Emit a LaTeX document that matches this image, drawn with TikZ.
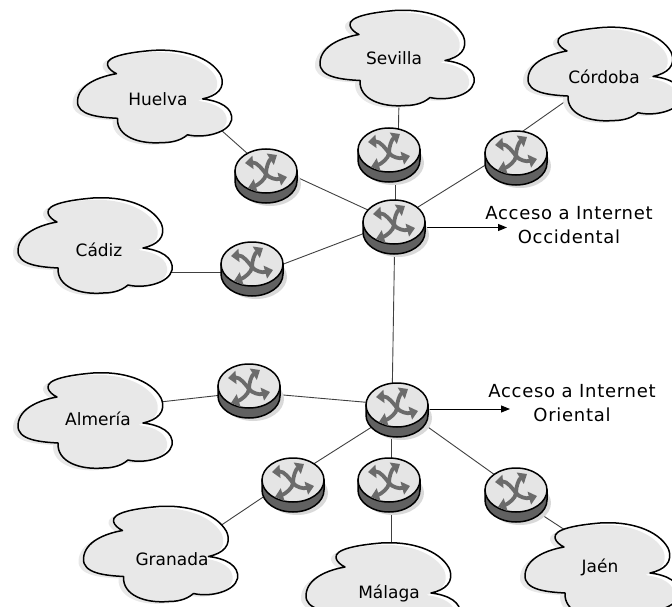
\documentclass[tikz,border=0pt]{standalone}
\usepackage{fontspec}
\setmainfont{DejaVu Sans}
\usetikzlibrary{arrows.meta,shapes.geometric}
\definecolor{cloudgray}{gray}{0.91}
\definecolor{topgray}{gray}{0.9}
\definecolor{sidegray}{gray}{0.38}
\definecolor{icongray}{gray}{0.42}
\definecolor{shadegray}{gray}{0.85}
\newcommand{\cloudpath}{
  (-47,-32) .. controls (-49,-41) and (-25,-45) .. (-2,-47)
  .. controls (28,-49) and (56,-40) .. (66,-22)
  .. controls (72,-8) and (62,0) .. (48,3)
  .. controls (65,5) and (79,12) .. (77,25)
  .. controls (74,38) and (50,44) .. (33,40)
  .. controls (25,47) and (15,48) .. (8,48)
  .. controls (-15,50) and (-38,42) .. (-37,23)
  .. controls (-55,22) and (-78,20) .. (-77,5)
  .. controls (-76,-12) and (-55,-20) .. (-38,-23)
  .. controls (-42,-25) and (-46,-28) .. (-47,-32) -- cycle
}
\newcommand{\mycloud}[4]{% x y sx sy
  \begin{scope}[shift={(#1,#2)},xscale=#3,yscale=#4]
    \fill[white] \cloudpath;
    \fill[cloudgray,shift={(-5,2)}] \cloudpath;
    \draw[cloudline] \cloudpath;
  \end{scope}
}
\newcommand{\myrouter}[3]{% name x y
  \fill[shadegray] (#2+4,#3+13) circle [x radius=31, y radius=22];
  \fill[sidegray,draw=black,routerline] (#2-31,#3) -- (#2-31,#3+10) arc [start angle=180,end angle=0,x radius=31,y radius=22] -- (#2+31,#3) -- cycle;
  \node[routertop] (#1) at (#2,#3) {};
  \begin{scope}[shift={(#2,#3)}]
    \draw[routericon] (-21,-8) .. controls (-9,-9) and (-3,-1) .. (0,3) .. controls (3,7) and (10,9) .. (21,6);
    \draw[routericon] (11,-16) .. controls (3,-11) and (0,-4) .. (0,3) .. controls (0,8) and (-8,14) .. (-18,17);
  \end{scope}
}
\tikzset{
  cloudline/.style={draw=black,line width=1.5,line join=round},
  routerline/.style={line width=1.5},
  routertop/.style={ellipse,draw=black,line width=1.5,fill=topgray,minimum width=62,minimum height=44,inner sep=0},
  routericon/.style={draw=icongray,line width=3.8,{Triangle[width=13,length=8]}-{Triangle[width=13,length=8]}},
  conn/.style={draw=black!75,line width=0.9},
  accessarrow/.style={draw=black,line width=0.9,-{Triangle[width=7,length=9]}},
  lbl/.style={font=\fontsize{17}{20}\selectfont,text=black,inner sep=0},
  acc/.style={font=\fontsize{18}{24}\selectfont\addfontfeature{LetterSpace=4},text=black,align=center,inner sep=0}
}
\begin{document}
\begin{tikzpicture}[x=1pt,y=-1pt]
\useasboundingbox (0,0) rectangle (672,607);
\clip (0,0) rectangle (672,607);
% named ends of the connectors
\coordinate (cH) at (212,122);
\coordinate (cS) at (399,100);
\coordinate (cC) at (570,98);
\coordinate (cD) at (165,272);
\coordinate (cA) at (160,402);
\coordinate (cG) at (220,526);
\coordinate (cM) at (391,550);
\coordinate (cJ) at (565,530);
\coordinate (occ) at (507,227.5);
\coordinate (ori) at (510,409);
\coordinate (pH) at (266,170);
\coordinate (pHb) at (266,163);
\coordinate (pS) at (398,150);
\coordinate (pC) at (516,136);
\coordinate (pCb) at (516,146);
\coordinate (pA) at (394,222);
\coordinate (pD) at (252,276);
\coordinate (pDb) at (252,272);
\coordinate (pL) at (249,392);
\coordinate (pB) at (397,405);
\coordinate (pBb) at (397,411);
\coordinate (pG) at (293,477);
\coordinate (pM) at (391,478);
\coordinate (pJ) at (516,490);
\coordinate (pJb) at (516,498);
\draw[conn] (cH) -- (pH);
\draw[conn] (cS) -- (pS);
\draw[conn] (cC) -- (pC);
\draw[conn] (cD) -- (pDb);
\draw[conn] (cA) -- (pL);
\draw[conn] (cG) -- (pG);
\draw[conn] (cM) -- (pM);
\draw[conn] (cJ) -- (pJb);
\draw[conn] (pHb) -- (pA);
\draw[conn] (pS -| pA) ++(1,0) -- ++(0,70);
\draw[conn] (pCb) -- (pA);
\draw[conn] (pD) -- (pA);
\draw[conn] (pA) ++(1,0) -- (392,405);
\draw[conn] (pL) -- (pB);
\draw[conn] (pG) -- (pBb);
\draw[conn] (pM) -- (pM |- pB);
\draw[conn] (pJ) -- (pB);
\draw[accessarrow] (pA |- occ) -- (occ);
\draw[accessarrow] (pB |- ori) -- (ori);
% clouds
\mycloud{154.5}{96}{1}{0.97}
\mycloud{397}{57.5}{1}{1}
\mycloud{605}{73.5}{1}{0.98}
\mycloud{95}{245}{1}{1}
\mycloud{95}{420}{1}{1}
\mycloud{160.5}{553.5}{1}{1}
\mycloud{383}{590}{1}{1}
\mycloud{602}{570}{1}{1}
% routers
\myrouter{rH}{266}{171}
\myrouter{rS}{389}{150}
\myrouter{rC}{516}{153}
\myrouter{hubA}{394}{222}
\myrouter{rD}{252}{264}
\myrouter{rL}{249}{386}
\myrouter{hubB}{397}{405}
\myrouter{rG}{293}{480}
\myrouter{rM}{389}{480}
\myrouter{rJ}{516}{490}
% labels
\node[lbl] (tH) at (158,99) {Huelva};
\node[lbl] (tS) at (394,58) {Sevilla};
\node[lbl] (tC) at (604,77) {Córdoba};
\node[lbl] (tD) at (99,250) {Cádiz};
\node[lbl] (tA) at (98,419) {Almería};
\node[lbl] (tG) at (172,559) {Granada};
\node[lbl] (tM) at (389,593) {Málaga};
\node[lbl] (tJ) at (600,567) {Jaén};
\node[acc] (tO) at (569,225) {Acceso a Internet\\Occidental};
\node[acc] (tR) at (572,403) {Acceso a Internet\\Oriental};
\end{tikzpicture}
\end{document}
